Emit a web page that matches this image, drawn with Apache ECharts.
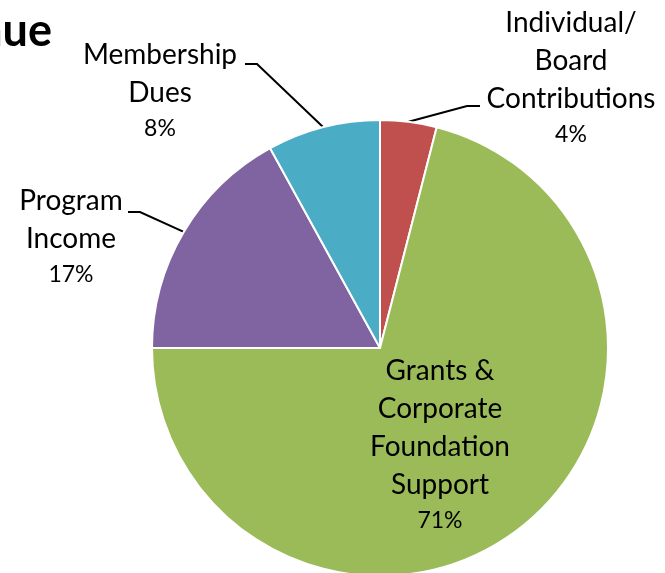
<!DOCTYPE html>
<html>
<head>
<meta charset="utf-8">
<script src="https://cdn.jsdelivr.net/npm/echarts@6/dist/echarts.min.js"></script>
<style>
  html, body { margin: 0; padding: 0; background: #fff; }
  #chart { width: 665px; height: 573px; }
</style>
</head>
<body>
<div id="chart"></div>
<script>
// revenue shares, clockwise from 12 o'clock
var names = ['Individual/\nBoard\nContributions', 'Grants &\nCorporate\nFoundation\nSupport', 'Program\nIncome', 'Membership\nDues'];
var values = [4, 71, 17, 8];
var colors = ['#C0504D', '#9BBB59', '#8064A2', '#4BACC6'];

// where each label sits (top-centre of the text block) and its leader line bend
var labelPos = [
  { x: 571, y: 4, elbow: [467, 106], end: [480, 106] },
  { x: 440, y: 352 },
  { x: 71, y: 182, elbow: [140, 212], end: [128, 212] },
  { x: 160, y: 36, elbow: [257, 64], end: [245, 64] }
];

var font = 'Lato, "Open Sans", sans-serif';
var chart = echarts.init(document.getElementById('chart'));

var data = [];
for (var i = 0; i < names.length; i++) {
  data.push({
    name: names[i],
    value: values[i],
    itemStyle: { color: colors[i] },
    label: i === 1 ? { position: 'inside' } : {},
    labelLine: { show: i !== 1 }
  });
}

var option = {
  animation: false,
  graphic: [{
    type: 'text',
    right: 613,
    top: 9,
    style: {
      text: 'Revenue',
      font: 'bold 45px ' + font,
      fill: '#000'
    }
  }],
  series: [{
    type: 'pie',
    center: [380, 348],
    radius: [0, 228],
    startAngle: 90,
    clockwise: true,
    avoidLabelOverlap: false,
    itemStyle: { borderColor: '#fff', borderWidth: 2 },
    label: {
      show: true,
      position: 'outside',
      color: '#000',
      formatter: function (p) {
        return '{n|' + p.name + '}\n{p|' + p.percent + '%}';
      },
      rich: {
        n: { fontFamily: font, fontSize: 28, lineHeight: 38, color: '#000', align: 'center' },
        p: { fontFamily: font, fontSize: 23, lineHeight: 34, color: '#000', align: 'center' }
      }
    },
    labelLine: {
      length: 10,
      length2: 10,
      lineStyle: { color: '#000', width: 2 }
    },
    labelLayout: function (p) {
      var L = labelPos[p.dataIndex];
      var out = { x: L.x, y: L.y, align: 'center', verticalAlign: 'top' };
      if (L.elbow && p.labelLinePoints) {
        out.labelLinePoints = [p.labelLinePoints[0], L.elbow, L.end];
      }
      return out;
    },
    data: data
  }]
};

chart.setOption(option);
</script>
</body>
</html>
